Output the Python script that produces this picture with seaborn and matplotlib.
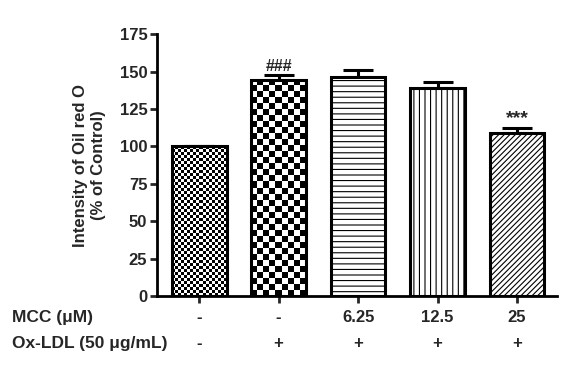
import numpy as np
import pandas as pd
import seaborn as sns
import matplotlib.pyplot as plt
from matplotlib import transforms

# values (% of control, mean and upper SEM)
groups = ["Control", "Ox-LDL", "MCC 6.25", "MCC 12.5", "MCC 25"]
intensity = [100.0, 144.5, 146.5, 138.7, 108.7]
sem = [0.0, 3.0, 4.5, 4.5, 3.5]
mcc_labels = ["-", "-", "6.25", "12.5", "25"]
oxldl_labels = ["-", "+", "+", "+", "+"]
marks = ["", "###", "", "", "***"]

# fill style per bar: checker cell size (px) or a hatch
fills = [("checker", 3), ("checker", 6), ("hatch", "---"), ("hatch", "|||"), ("hatch", "//////")]

sns.set_theme(style="ticks")
plt.rcParams["font.family"] = ["Liberation Sans", "DejaVu Sans"]
plt.rcParams["font.weight"] = "bold"
plt.rcParams["hatch.linewidth"] = 0.8
plt.rcParams["hatch.color"] = "black"

df = pd.DataFrame({"group": groups, "intensity": intensity})

fig = plt.figure(figsize=(5.71, 3.67), dpi=100)
ax = fig.add_axes([0.275, 0.193, 0.70, 0.714])
sns.barplot(data=df, x="group", y="intensity", color="white", edgecolor="black",
            linewidth=2.2, width=0.69, saturation=1, ax=ax, zorder=2)

ax.set_ylim(0, 175)
ax.set_xlim(-0.53, 4.5)

bars = list(ax.patches)


def checker(ax, bar, cell):
    x0, w, h = bar.get_x(), bar.get_width(), bar.get_height()
    px = ax.transData.transform([(x0, 0), (x0 + w, h)])
    nx = max(1, int(round((px[1, 0] - px[0, 0]) / cell)))
    ny = max(1, int(round((px[1, 1] - px[0, 1]) / cell)))
    board = np.indices((ny, nx)).sum(axis=0) % 2
    im = ax.imshow(board, cmap="gray", extent=(x0, x0 + w, 0, h), aspect="auto",
                   interpolation="nearest", origin="lower", zorder=1.5)
    im.set_clip_path(bar)
    bar.set_facecolor("none")


for bar, (kind, val) in zip(bars, fills):
    if kind == "checker":
        checker(ax, bar, val)
    else:
        bar.set_hatch(val)

ax.set_xlim(-0.53, 4.5)
ax.set_ylim(0, 175)

xs = [b.get_x() + b.get_width() / 2 for b in bars]
ax.errorbar(xs, intensity, yerr=[np.zeros(len(sem)), sem], fmt="none", ecolor="black",
            elinewidth=2.2, capsize=10.5, capthick=2.2, zorder=1)

for x, m, s, t in zip(xs, intensity, sem, marks):
    if t:
        fs = 14 if t.startswith("*") else 11.5
        ax.text(x, m + s + 1.0, t, ha="center", va="bottom", fontsize=fs, fontweight="bold")

ax.set_yticks(np.arange(0, 176, 25))
ax.set_xticks(range(len(groups)))
ax.set_xticklabels([])
ax.set_xlabel("")
ax.set_ylabel("Intensity of Oil red O\n(% of Control)", fontsize=12, fontweight="bold",
              labelpad=10, linespacing=1.25)
ax.tick_params(axis="y", labelsize=12, length=5, width=2, pad=2)
ax.tick_params(axis="x", length=5, width=2)
sns.despine(ax=ax)
for s in ["left", "bottom"]:
    ax.spines[s].set_linewidth(2)
    ax.spines[s].set_color("black")

# treatment table under the axis
trans = transforms.blended_transform_factory(ax.transData, fig.transFigure)
for x, a, b in zip(xs, mcc_labels, oxldl_labels):
    ax.text(x, 0.134, a, transform=trans, ha="center", va="center", fontsize=12, fontweight="bold")
    ax.text(x, 0.063, b, transform=trans, ha="center", va="center", fontsize=12, fontweight="bold")
fig.text(0.021, 0.134, "MCC (μM)", ha="left", va="center", fontsize=12.5, fontweight="bold")
fig.text(0.021, 0.063, "Ox-LDL (50 μg/mL)", ha="left", va="center", fontsize=12.5, fontweight="bold")

fig.savefig("out.png", dpi=100)
